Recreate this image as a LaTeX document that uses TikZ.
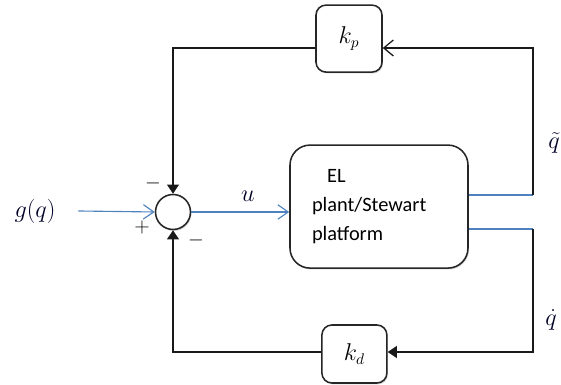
\documentclass[tikz,border=0pt]{standalone}
\usepackage{amsmath}
\usepackage{fontspec}
\setmainfont{Carlito}
\usetikzlibrary{arrows.meta,shadows}
\definecolor{lineblue}{RGB}{79,129,189}
\tikzset{
  blk/.style={draw=black!85, line width=1.1pt, rounded corners=0.25cm, fill=white,
    drop shadow={shadow xshift=0.7pt, shadow yshift=-1pt, opacity=0.35}},
  sum/.style={circle, draw=black!85, line width=1.1pt, fill=white, minimum size=0.875cm,
    drop shadow={shadow xshift=0.7pt, shadow yshift=-1pt, opacity=0.35}},
  sig/.style={draw=lineblue, line width=0.8pt},
  fb/.style={draw=black!90, line width=0.9pt},
  lbl/.style={font=\fontsize{16}{18}\selectfont, text=black!85!blue},
  sgn/.style={font=\fontsize{14}{16}\selectfont}
}
\begin{document}
\begin{tikzpicture}
    \useasboundingbox (0,0) rectangle (14.025,9.625);
    \node[sum] (s) at (4.325,4.325) {};
    \node[blk, rounded corners=0.5cm, minimum width=4.45cm, minimum height=3.075cm,
      text width=3.35cm, align=left, font=\fontsize{14.5}{20.5}\selectfont] (p) at (9.475,4.46)
      {\hspace{0.38cm}EL\\plant/Stewart\\platform};
    \node[blk, minimum width=1.65cm, minimum height=1.675cm] (kp) at (8.725,8.66)
      {\fontsize{16}{18}\selectfont$k_p$};
    \node[blk, minimum width=1.625cm, minimum height=1.45cm] (kd) at (8.86,0.775)
      {\fontsize{16}{18}\selectfont$k_d$};
    \node[lbl, font=\fontsize{19}{21}\selectfont] (g) at (0.875,4.35) {$g(q)$};
    \node[lbl] (u) at (6.2,4.72) {$u$};
    \node[lbl] (qt) at (13.85,6.05) {$\tilde{q}$};
    \node[lbl] (qd) at (13.78,1.62) {$\dot{q}$};
    \node[sgn] (m1) at (3.825,5.03) {$-$};
    \node[sgn] (pl) at (3.55,3.95) {$+$};
    \node[sgn] (m2) at (4.9,3.62) {$-$};
    \coordinate (c1) at (13.325,4.75);
    \coordinate (c2) at (13.325,8.425);
    \coordinate (c3) at (4.325,8.425);
    \coordinate (c4) at (13.325,3.9);
    \coordinate (c5) at (13.325,0.825);
    \coordinate (c6) at (4.325,0.825);
    % forward path
    \draw[sig, -{Straight Barb[length=2.6mm, width=3.6mm]}] ([xshift=0.45cm]g.east) -- (s.west);
    \draw[sig, -{Straight Barb[length=2.6mm, width=3.6mm]}] (s.east) -- (s.east -| p.west);
    % feedback
    \draw[sig] (p.east |- c1) -- (c1);
    \draw[fb, -{Straight Barb[length=2.4mm, width=4mm]}] (c1) -- (c2) -- (c2 -| kp.east);
    \draw[fb, -{Triangle[length=2.3mm, width=3mm]}] (c2 -| kp.west) -- (c3) -- (s.north);
    \draw[sig] (p.east |- c4) -- (c4);
    \draw[fb, -{Triangle[length=2.3mm, width=3mm]}] (c4) -- (c5) -- (c5 -| kd.east);
    \draw[fb, -{Triangle[length=2.3mm, width=3mm]}] (c5 -| kd.west) -- (c6) -- (s.south);
\end{tikzpicture}
\end{document}
